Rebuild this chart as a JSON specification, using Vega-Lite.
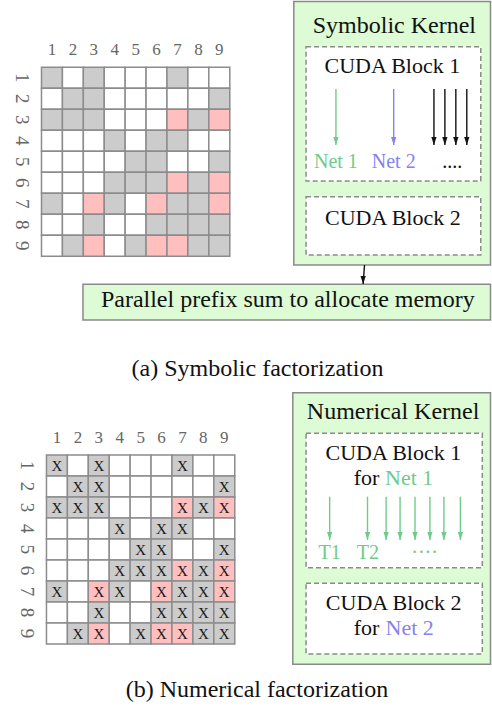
{
  "$schema": "https://vega.github.io/schema/vega-lite/v6.json",
  "width": 492,
  "height": 707,
  "autosize": {"type": "fit", "contains": "padding"},
  "padding": 0,
  "background": "white",
  "config": {"view": {"stroke": null}, "font": "Liberation Serif", "text": {"font": "Liberation Serif"}},
  "datasets": {
    "cells": [
      {"r":1,"c":1,"t":"G"},{"r":1,"c":2,"t":"W"},{"r":1,"c":3,"t":"G"},{"r":1,"c":4,"t":"W"},{"r":1,"c":5,"t":"W"},{"r":1,"c":6,"t":"W"},{"r":1,"c":7,"t":"G"},{"r":1,"c":8,"t":"W"},{"r":1,"c":9,"t":"W"},
      {"r":2,"c":1,"t":"W"},{"r":2,"c":2,"t":"G"},{"r":2,"c":3,"t":"G"},{"r":2,"c":4,"t":"W"},{"r":2,"c":5,"t":"W"},{"r":2,"c":6,"t":"W"},{"r":2,"c":7,"t":"W"},{"r":2,"c":8,"t":"W"},{"r":2,"c":9,"t":"G"},
      {"r":3,"c":1,"t":"G"},{"r":3,"c":2,"t":"G"},{"r":3,"c":3,"t":"G"},{"r":3,"c":4,"t":"W"},{"r":3,"c":5,"t":"W"},{"r":3,"c":6,"t":"W"},{"r":3,"c":7,"t":"P"},{"r":3,"c":8,"t":"G"},{"r":3,"c":9,"t":"P"},
      {"r":4,"c":1,"t":"W"},{"r":4,"c":2,"t":"W"},{"r":4,"c":3,"t":"W"},{"r":4,"c":4,"t":"G"},{"r":4,"c":5,"t":"W"},{"r":4,"c":6,"t":"G"},{"r":4,"c":7,"t":"G"},{"r":4,"c":8,"t":"W"},{"r":4,"c":9,"t":"W"},
      {"r":5,"c":1,"t":"W"},{"r":5,"c":2,"t":"W"},{"r":5,"c":3,"t":"W"},{"r":5,"c":4,"t":"W"},{"r":5,"c":5,"t":"G"},{"r":5,"c":6,"t":"G"},{"r":5,"c":7,"t":"W"},{"r":5,"c":8,"t":"W"},{"r":5,"c":9,"t":"G"},
      {"r":6,"c":1,"t":"W"},{"r":6,"c":2,"t":"W"},{"r":6,"c":3,"t":"W"},{"r":6,"c":4,"t":"G"},{"r":6,"c":5,"t":"G"},{"r":6,"c":6,"t":"G"},{"r":6,"c":7,"t":"P"},{"r":6,"c":8,"t":"G"},{"r":6,"c":9,"t":"P"},
      {"r":7,"c":1,"t":"G"},{"r":7,"c":2,"t":"W"},{"r":7,"c":3,"t":"P"},{"r":7,"c":4,"t":"G"},{"r":7,"c":5,"t":"W"},{"r":7,"c":6,"t":"P"},{"r":7,"c":7,"t":"G"},{"r":7,"c":8,"t":"G"},{"r":7,"c":9,"t":"P"},
      {"r":8,"c":1,"t":"W"},{"r":8,"c":2,"t":"W"},{"r":8,"c":3,"t":"G"},{"r":8,"c":4,"t":"W"},{"r":8,"c":5,"t":"W"},{"r":8,"c":6,"t":"G"},{"r":8,"c":7,"t":"G"},{"r":8,"c":8,"t":"G"},{"r":8,"c":9,"t":"G"},
      {"r":9,"c":1,"t":"W"},{"r":9,"c":2,"t":"G"},{"r":9,"c":3,"t":"P"},{"r":9,"c":4,"t":"W"},{"r":9,"c":5,"t":"G"},{"r":9,"c":6,"t":"P"},{"r":9,"c":7,"t":"P"},{"r":9,"c":8,"t":"G"},{"r":9,"c":9,"t":"G"}
    ],
    "idx": [{"i":1},{"i":2},{"i":3},{"i":4},{"i":5},{"i":6},{"i":7},{"i":8},{"i":9}],
    "boxes": [
      {"kind":"kernel","x0":295,"x1":492.5,"y0":1.5,"y1":265},
      {"kind":"kernel","x0":83.3,"x1":492.5,"y0":284.3,"y1":320},
      {"kind":"kernel","x0":294,"x1":492.5,"y0":392.7,"y1":664.3},
      {"kind":"block","x0":307.3,"x1":482.7,"y0":46.7,"y1":181},
      {"kind":"block","x0":307.3,"x1":482.7,"y0":196.7,"y1":255},
      {"kind":"block","x0":307.3,"x1":484.3,"y0":433.3,"y1":567.7},
      {"kind":"block","x0":307.3,"x1":484.3,"y0":583.3,"y1":654}
    ],
    "arrows": [
      {"grp":"net1","x0":337.3,"x1":337.3,"y0":89,"y1":145},
      {"grp":"net2","x0":395.3,"x1":395.3,"y0":89,"y1":145},
      {"grp":"plain","x0":435.7,"x1":435.7,"y0":89,"y1":145},
      {"grp":"plain","x0":446.7,"x1":446.7,"y0":89,"y1":145},
      {"grp":"plain","x0":457.7,"x1":457.7,"y0":89,"y1":145},
      {"grp":"plain","x0":468.7,"x1":468.7,"y0":89,"y1":145},
      {"grp":"plain","x0":366,"x1":364.6,"y0":265,"y1":284},
      {"grp":"net1","x0":331,"x1":331,"y0":496.7,"y1":540},
      {"grp":"net1","x0":369,"x1":369,"y0":496.7,"y1":540},
      {"grp":"net1","x0":387.7,"x1":387.7,"y0":496.7,"y1":540},
      {"grp":"net1","x0":401.7,"x1":401.7,"y0":496.7,"y1":540},
      {"grp":"net1","x0":416.7,"x1":416.7,"y0":496.7,"y1":540},
      {"grp":"net1","x0":431.7,"x1":431.7,"y0":496.7,"y1":540},
      {"grp":"net1","x0":445.7,"x1":445.7,"y0":496.7,"y1":540},
      {"grp":"net1","x0":462.3,"x1":462.3,"y0":496.7,"y1":540}
    ],
    "labels": [
      {"role":"big","grp":"plain","s":"Symbolic Kernel","tx":396,"ty":33},
      {"role":"big","grp":"plain","s":"Numerical Kernel","tx":394.7,"ty":419},
      {"role":"big","grp":"plain","s":"Parallel prefix sum to allocate memory","tx":289,"ty":307},
      {"role":"big","grp":"plain","s":"(a) Symbolic factorization","tx":258.5,"ty":376},
      {"role":"big","grp":"plain","s":"(b) Numerical factorization","tx":258,"ty":697},
      {"role":"block","grp":"plain","s":"CUDA Block 1","tx":394,"ty":72.7},
      {"role":"block","grp":"plain","s":"CUDA Block 2","tx":394.5,"ty":225},
      {"role":"block","grp":"plain","s":"CUDA Block 1","tx":395,"ty":460},
      {"role":"block","grp":"plain","s":"for","tx":368,"ty":485},
      {"role":"block","grp":"net1","s":"Net 1","tx":410.8,"ty":485},
      {"role":"block","grp":"plain","s":"CUDA Block 2","tx":395.3,"ty":610},
      {"role":"block","grp":"plain","s":"for","tx":368,"ty":634.5},
      {"role":"block","grp":"net2","s":"Net 2","tx":411.3,"ty":634.5},
      {"role":"net","grp":"net1","s":"Net 1","tx":337.3,"ty":168.3},
      {"role":"net","grp":"net2","s":"Net 2","tx":395.3,"ty":168.3},
      {"role":"net","grp":"plain","s":"....","tx":454,"ty":167.5},
      {"role":"net","grp":"net1","s":"T1","tx":331,"ty":559.3},
      {"role":"net","grp":"net1","s":"T2","tx":369.3,"ty":559.3},
      {"role":"net","grp":"net1","s":"····","tx":426.3,"ty":559.3}
    ]
  },
  "resolve": {"scale": {"x": "independent", "y": "independent", "fill": "independent", "color": "independent"}},
  "layer": [
    {
      "layer": [
        {
          "data": {"name": "cells"},
          "mark": {"type": "point", "shape": "square", "size": 441, "filled": true, "opacity": 1, "stroke": "#8c8c8c", "strokeWidth": 1.5},
          "encoding": {
            "x": {"field": "c", "type": "quantitative", "scale": {"domain": [-1.486, 21.943], "nice": false, "zero": false}, "axis": null},
            "y": {"field": "r", "type": "quantitative", "scale": {"domain": [-2.705, 30.962], "nice": false, "zero": false, "reverse": true}, "axis": null},
            "fill": {"field": "t", "type": "nominal", "scale": {"domain": ["G", "W", "P"], "range": ["#cccccc", "#ffffff", "#ffbfbf"]}, "legend": null}
          }
        },
        {
          "data": {"name": "idx"},
          "mark": {"type": "text", "fontSize": 17, "color": "#666666", "baseline": "alphabetic", "align": "center"},
          "encoding": {
            "x": {"field": "i", "type": "quantitative"},
            "y": {"datum": -0.086, "type": "quantitative"},
            "text": {"field": "i", "type": "nominal"}
          }
        },
        {
          "data": {"name": "idx"},
          "mark": {"type": "text", "fontSize": 19, "color": "#666666", "baseline": "alphabetic", "align": "center", "angle": 90},
          "encoding": {
            "x": {"datum": -0.7, "type": "quantitative"},
            "y": {"field": "i", "type": "quantitative"},
            "text": {"field": "i", "type": "nominal"}
          }
        }
      ]
    },
    {
      "layer": [
        {
          "data": {"name": "cells"},
          "mark": {"type": "point", "shape": "square", "size": 441, "filled": true, "opacity": 1, "stroke": "#8c8c8c", "strokeWidth": 1.5},
          "encoding": {
            "x": {"field": "c", "type": "quantitative", "scale": {"domain": [-1.724, 21.705], "nice": false, "zero": false}, "axis": null},
            "y": {"field": "r", "type": "quantitative", "scale": {"domain": [-21.167, 12.5], "nice": false, "zero": false, "reverse": true}, "axis": null},
            "fill": {"field": "t", "type": "nominal", "scale": {"domain": ["G", "W", "P"], "range": ["#cccccc", "#ffffff", "#ffbfbf"]}, "legend": null}
          }
        },
        {
          "data": {"name": "cells"},
          "transform": [{"filter": "datum.t !== 'W'"}],
          "mark": {"type": "text", "fontSize": 15, "color": "#1a1a1a", "baseline": "middle", "align": "center", "text": "X"},
          "encoding": {
            "x": {"field": "c", "type": "quantitative"},
            "y": {"field": "r", "type": "quantitative"}
          }
        },
        {
          "data": {"name": "idx"},
          "mark": {"type": "text", "fontSize": 17, "color": "#666666", "baseline": "alphabetic", "align": "center"},
          "encoding": {
            "x": {"field": "i", "type": "quantitative"},
            "y": {"datum": -0.086, "type": "quantitative"},
            "text": {"field": "i", "type": "nominal"}
          }
        },
        {
          "data": {"name": "idx"},
          "mark": {"type": "text", "fontSize": 19, "color": "#666666", "baseline": "alphabetic", "align": "center", "angle": 90},
          "encoding": {
            "x": {"datum": -0.7, "type": "quantitative"},
            "y": {"field": "i", "type": "quantitative"},
            "text": {"field": "i", "type": "nominal"}
          }
        }
      ]
    },
    {
      "layer": [
        {
          "data": {"name": "boxes"},
          "transform": [{"filter": "datum.kind === 'kernel'"}],
          "mark": {"type": "rect", "fill": "#ddfbd5", "stroke": "#8a8a8a", "strokeWidth": 1.5},
          "encoding": {
            "x": {"field": "x0", "type": "quantitative", "scale": {"domain": [0, 492], "nice": false, "zero": false}, "axis": null},
            "x2": {"field": "x1"},
            "y": {"field": "y0", "type": "quantitative", "scale": {"domain": [0, 707], "nice": false, "zero": false, "reverse": true}, "axis": null},
            "y2": {"field": "y1"}
          }
        },
        {
          "data": {"name": "boxes"},
          "transform": [{"filter": "datum.kind === 'block'"}],
          "mark": {"type": "rect", "fill": "#ffffff", "stroke": "#8a8a8a", "strokeWidth": 1.5, "strokeDash": [5, 3]},
          "encoding": {
            "x": {"field": "x0", "type": "quantitative"},
            "x2": {"field": "x1"},
            "y": {"field": "y0", "type": "quantitative"},
            "y2": {"field": "y1"}
          }
        },
        {
          "data": {"name": "arrows"},
          "mark": {"type": "rule", "strokeWidth": 1.4},
          "encoding": {
            "x": {"field": "x0", "type": "quantitative"},
            "x2": {"field": "x1"},
            "y": {"field": "y0", "type": "quantitative"},
            "y2": {"field": "y1"},
            "color": {"field": "grp", "type": "nominal", "scale": {"domain": ["net1", "net2", "plain"], "range": ["#6fcb8b", "#8682ee", "#111111"]}, "legend": null}
          }
        },
        {
          "data": {"name": "arrows"},
          "mark": {"type": "point", "shape": "M-0.66,-1L0.66,-1L0,1Z", "size": 64, "filled": true, "opacity": 1, "yOffset": -4},
          "encoding": {
            "x": {"field": "x1", "type": "quantitative"},
            "y": {"field": "y1", "type": "quantitative"},
            "color": {"field": "grp", "type": "nominal", "legend": null}
          }
        },
        {
          "data": {"name": "labels"},
          "transform": [{"filter": "datum.role === 'big'"}],
          "mark": {"type": "text", "fontSize": 24, "baseline": "alphabetic", "align": "center"},
          "encoding": {
            "x": {"field": "tx", "type": "quantitative"},
            "y": {"field": "ty", "type": "quantitative"},
            "text": {"field": "s"},
            "color": {"field": "grp", "type": "nominal", "legend": null}
          }
        },
        {
          "data": {"name": "labels"},
          "transform": [{"filter": "datum.role === 'block'"}],
          "mark": {"type": "text", "fontSize": 22, "baseline": "alphabetic", "align": "center"},
          "encoding": {
            "x": {"field": "tx", "type": "quantitative"},
            "y": {"field": "ty", "type": "quantitative"},
            "text": {"field": "s"},
            "color": {"field": "grp", "type": "nominal", "legend": null}
          }
        },
        {
          "data": {"name": "labels"},
          "transform": [{"filter": "datum.role === 'net'"}],
          "mark": {"type": "text", "fontSize": 20, "baseline": "alphabetic", "align": "center"},
          "encoding": {
            "x": {"field": "tx", "type": "quantitative"},
            "y": {"field": "ty", "type": "quantitative"},
            "text": {"field": "s"},
            "color": {"field": "grp", "type": "nominal", "legend": null}
          }
        }
      ]
    }
  ]
}
